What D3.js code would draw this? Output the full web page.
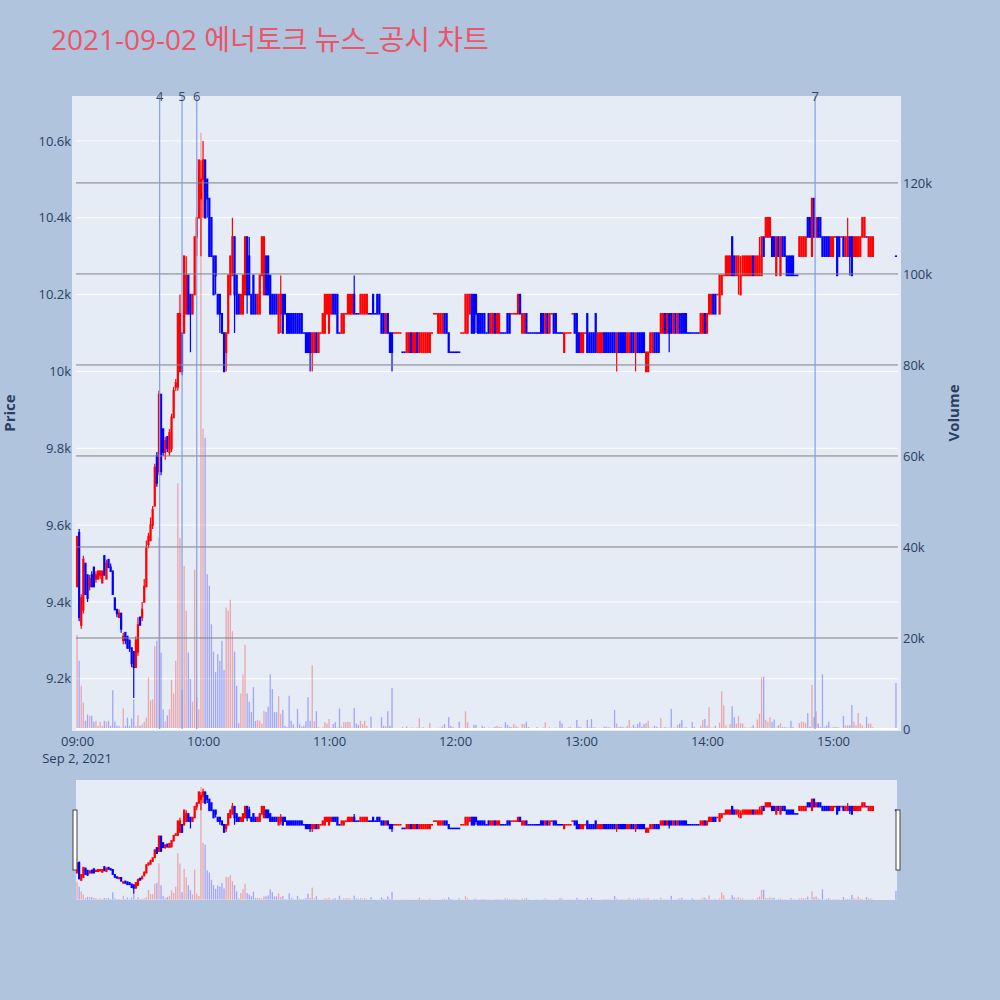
<!DOCTYPE html>
<html>
<head>
<meta charset="utf-8">
<script src="https://cdn.jsdelivr.net/npm/d3@7"></script>
<style>
  body { margin: 0; background: #b0c4de; }
  text { font-family: "Open Sans", "Noto Sans CJK KR", sans-serif; }
</style>
</head>
<body>
<div id="chart"></div>
<script>
// 1-minute candles, 09:00 - 15:19, plus the 15:30 closing print
const opens = [
  9440,9580,9340,9380,9500,9470,9440,9470,9490,9460,
  9460,9470,9450,9520,9460,9510,9490,9480,9410,9380,
  9360,9370,9300,9320,9310,9300,9280,9270,9230,9270,
  9360,9360,9400,9440,9550,9560,9600,9650,9780,9740,
  9940,9850,9790,9830,9790,9800,9880,9960,9960,10000,
  10100,10100,10150,10250,10200,10150,10200,10350,10400,10450,
  10500,10550,10500,10450,10400,10300,10300,10200,10200,10150,
  10100,10050,10100,10200,10250,10350,10250,10200,10150,10150,
  10200,10350,10300,10200,10250,10200,10150,10150,10250,10200,
  10300,10300,10250,10200,10200,10200,10100,10150,10200,10200,
  10150,10150,10150,10150,10150,10150,10150,10150,10100,10100,
  10100,10100,10050,10050,10100,10050,10100,10100,10100,10150,
  10100,10150,10200,10200,10200,10100,10100,10100,10150,10150,
  10150,10150,10200,10150,10150,10150,10150,10150,10150,10150,
  10150,10200,10150,10200,10200,10150,10150,10100,10150,10100,
  10100,10100,10100,10100,10100,10050,10050,10050,10050,10100,
  10050,10050,10100,10050,10050,10050,10050,10050,10050,10100,
  10150,10150,10100,10100,10100,10150,10150,10100,10050,10050,
  10050,10050,10050,10100,10100,10100,10100,10150,10200,10200,
  10200,10150,10150,10150,10150,10100,10150,10100,10100,10150,
  10100,10100,10100,10100,10100,10150,10150,10150,10150,10150,
  10150,10200,10100,10100,10150,10100,10100,10100,10100,10100,
  10100,10150,10150,10100,10150,10100,10150,10150,10150,10100,
  10100,10100,10050,10100,10100,10100,10150,10150,10150,10100,
  10050,10050,10100,10150,10100,10100,10100,10150,10050,10050,
  10050,10100,10100,10100,10100,10100,10100,10050,10100,10100,
  10100,10100,10050,10050,10100,10100,10050,10100,10100,10100,
  10100,10000,10000,10050,10050,10100,10100,10100,10100,10100,
  10150,10100,10150,10150,10100,10150,10100,10150,10150,10150,
  10150,10100,10100,10100,10100,10100,10100,10100,10100,10150,
  10100,10150,10150,10200,10200,10200,10150,10200,10250,10250,
  10250,10250,10350,10300,10250,10250,10200,10250,10250,10250,
  10250,10250,10300,10250,10250,10250,10250,10350,10350,10350,
  10350,10350,10350,10250,10350,10250,10350,10350,10300,10300,
  10300,10300,10250,10250,10300,10300,10300,10300,10400,10400,
  10300,10450,10350,10400,10400,10350,10350,10350,10350,10300,
  10300,10350,10350,10350,10350,10350,10300,10300,10350,10350,
  10300,10300,10300,10300,10350,10350,10350,10300,10300,10300,
  10300
];
const highs = [
  9570,9590,9420,9520,9500,9470,9470,9480,9490,9480,
  9480,9480,9480,9520,9510,9510,9500,9480,9410,9380,
  9380,9370,9320,9320,9310,9300,9280,9270,9310,9360,
  9360,9400,9460,9560,9580,9620,9650,9760,9790,9950,
  9940,9850,9830,9830,9850,9890,9960,9980,10150,10200,
  10100,10300,10300,10250,10200,10200,10350,10400,10550,10550,
  10600,10550,10500,10450,10400,10300,10300,10200,10200,10150,
  10100,10100,10250,10300,10400,10350,10250,10200,10200,10250,
  10350,10350,10350,10200,10250,10200,10200,10250,10350,10350,
  10300,10300,10250,10200,10200,10200,10200,10250,10200,10200,
  10150,10150,10150,10150,10150,10150,10150,10150,10100,10100,
  10100,10100,10100,10100,10100,10100,10100,10150,10200,10200,
  10200,10200,10200,10200,10200,10100,10150,10150,10150,10200,
  10200,10200,10250,10150,10150,10200,10200,10200,10200,10150,
  10150,10200,10150,10200,10200,10150,10150,10150,10150,10100,
  10100,10100,10100,10100,10100,10050,10050,10100,10100,10100,
  10100,10100,10100,10100,10100,10100,10100,10100,10100,10100,
  10150,10150,10150,10150,10150,10150,10150,10100,10050,10050,
  10050,10050,10050,10100,10100,10200,10200,10200,10200,10200,
  10200,10150,10150,10150,10150,10100,10150,10150,10150,10150,
  10150,10150,10100,10100,10100,10150,10150,10150,10150,10150,
  10200,10200,10150,10150,10150,10100,10100,10100,10100,10100,
  10100,10150,10150,10150,10150,10150,10150,10150,10150,10100,
  10100,10100,10100,10100,10100,10100,10150,10150,10150,10100,
  10100,10100,10100,10150,10100,10100,10100,10150,10100,10100,
  10100,10100,10100,10100,10100,10100,10100,10100,10100,10100,
  10100,10100,10100,10100,10100,10100,10100,10100,10100,10100,
  10100,10050,10050,10100,10100,10100,10100,10100,10150,10150,
  10150,10150,10150,10150,10150,10150,10150,10150,10150,10150,
  10150,10100,10100,10100,10100,10100,10100,10150,10150,10150,
  10150,10200,10200,10200,10200,10200,10250,10250,10250,10300,
  10300,10300,10350,10300,10300,10300,10300,10300,10300,10300,
  10300,10300,10300,10300,10300,10350,10350,10350,10400,10400,
  10400,10350,10350,10350,10350,10350,10350,10350,10300,10300,
  10300,10300,10250,10250,10350,10350,10350,10350,10400,10400,
  10450,10450,10400,10400,10400,10350,10350,10350,10350,10350,
  10350,10350,10350,10350,10350,10350,10350,10400,10350,10350,
  10350,10350,10350,10350,10400,10400,10350,10350,10350,10350,
  10300
];
const lows = [
  9440,9350,9330,9370,9420,9400,9430,9440,9440,9450,
  9460,9460,9450,9470,9460,9490,9480,9420,9380,9360,
  9360,9320,9290,9290,9280,9270,9230,9150,9230,9260,
  9340,9350,9400,9440,9540,9560,9590,9650,9700,9730,
  9730,9780,9770,9790,9780,9790,9880,9950,9950,10000,
  9990,10100,10150,10150,10050,10150,10200,10300,10400,10300,
  10400,10400,10400,10300,10300,10200,10200,10150,10100,10100,
  10000,10000,10100,10200,10250,10100,10150,10150,10150,10150,
  10200,10150,10200,10150,10150,10150,10150,10150,10250,10200,
  10200,10200,10150,10150,10150,10150,10100,10100,10100,10150,
  10100,10100,10100,10100,10100,10100,10100,10100,10100,10050,
  10050,10000,10000,10050,10050,10050,10100,10100,10100,10150,
  10100,10150,10150,10150,10100,10100,10100,10100,10150,10150,
  10150,10150,10150,10150,10150,10150,10150,10150,10150,10150,
  10150,10150,10150,10150,10150,10100,10100,10100,10100,10050,
  10000,10100,10100,10100,10100,10050,10050,10050,10050,10050,
  10050,10050,10050,10050,10050,10050,10050,10050,10050,10100,
  10150,10150,10100,10100,10100,10100,10100,10050,10050,10050,
  10050,10050,10050,10100,10100,10100,10100,10150,10100,10100,
  10100,10100,10100,10100,10100,10100,10100,10100,10100,10100,
  10100,10100,10100,10100,10100,10100,10100,10150,10150,10150,
  10150,10150,10100,10100,10100,10100,10100,10100,10100,10100,
  10100,10100,10100,10100,10100,10100,10150,10100,10100,10100,
  10100,10100,10050,10100,10100,10100,10150,10100,10050,10050,
  10050,10050,10100,10050,10050,10050,10050,10050,10050,10050,
  10050,10050,10050,10050,10050,10050,10050,10000,10050,10050,
  10050,10050,10050,10050,10050,10050,10000,10050,10050,10050,
  10050,10000,10000,10050,10050,10050,10050,10050,10100,10100,
  10100,10100,10050,10100,10100,10100,10100,10100,10100,10100,
  10100,10100,10100,10100,10100,10100,10100,10100,10100,10100,
  10100,10150,10150,10150,10150,10200,10150,10200,10250,10250,
  10250,10250,10250,10250,10250,10200,10200,10250,10250,10250,
  10250,10250,10250,10250,10250,10250,10250,10300,10350,10350,
  10350,10300,10300,10250,10300,10250,10300,10300,10250,10250,
  10250,10250,10250,10250,10300,10300,10300,10300,10350,10350,
  10300,10350,10350,10350,10350,10300,10300,10300,10300,10300,
  10300,10350,10250,10300,10350,10300,10300,10300,10250,10250,
  10300,10300,10300,10300,10350,10350,10350,10300,10300,10300,
  10300
];
const closes = [
  9570,9360,9410,9510,9420,9410,9460,9440,9440,9470,
  9480,9480,9480,9470,9500,9490,9480,9420,9380,9370,
  9370,9330,9310,9300,9280,9280,9240,9230,9300,9340,
  9340,9380,9440,9540,9570,9600,9640,9750,9710,9940,
  9740,9790,9820,9800,9840,9880,9950,9970,10150,10150,
  10000,10300,10250,10150,10150,10200,10350,10400,10550,10500,
  10550,10400,10450,10300,10300,10200,10250,10150,10150,10100,
  10000,10100,10250,10300,10350,10200,10150,10150,10200,10250,
  10350,10200,10200,10150,10150,10150,10200,10250,10350,10350,
  10200,10200,10150,10150,10150,10150,10200,10200,10100,10150,
  10100,10100,10100,10100,10100,10100,10100,10100,10100,10050,
  10050,10050,10100,10100,10050,10100,10100,10150,10200,10200,
  10200,10200,10150,10150,10100,10100,10150,10150,10150,10200,
  10200,10200,10150,10150,10150,10200,10200,10200,10200,10150,
  10150,10150,10150,10150,10150,10100,10100,10150,10100,10050,
  10050,10100,10100,10100,10100,10050,10050,10100,10100,10050,
  10100,10100,10050,10100,10100,10100,10100,10100,10100,10100,
  10150,10150,10150,10150,10150,10100,10100,10050,10050,10050,
  10050,10050,10050,10100,10100,10200,10200,10200,10100,10100,
  10150,10100,10100,10100,10100,10100,10100,10150,10150,10100,
  10150,10150,10100,10100,10100,10100,10100,10150,10150,10150,
  10200,10150,10150,10150,10100,10100,10100,10100,10100,10100,
  10100,10100,10100,10150,10100,10150,10150,10100,10100,10100,
  10100,10100,10100,10100,10100,10100,10150,10100,10050,10050,
  10100,10100,10100,10050,10050,10050,10050,10050,10100,10100,
  10100,10050,10050,10050,10050,10050,10050,10100,10050,10050,
  10050,10050,10100,10100,10050,10050,10100,10050,10050,10050,
  10050,10050,10050,10100,10100,10050,10050,10050,10150,10150,
  10100,10150,10100,10100,10150,10100,10150,10100,10100,10100,
  10100,10100,10100,10100,10100,10100,10100,10150,10150,10100,
  10150,10200,10200,10150,10150,10200,10250,10250,10250,10300,
  10300,10300,10250,10250,10300,10300,10250,10300,10300,10300,
  10300,10300,10250,10300,10300,10300,10350,10300,10400,10400,
  10400,10300,10300,10350,10300,10350,10300,10300,10250,10250,
  10250,10250,10250,10250,10350,10350,10350,10350,10350,10350,
  10450,10350,10400,10350,10350,10300,10300,10300,10300,10350,
  10350,10350,10250,10300,10350,10300,10350,10350,10300,10250,
  10350,10350,10350,10350,10400,10400,10350,10350,10350,10350,
  10300
];
const volumes = [
  20700,15000,9500,5800,1800,3200,2900,2900,1600,1800,
  700,1600,700,1800,1600,1800,700,8500,1600,700,
  700,300,4500,700,2500,700,2300,6500,700,3000,
  700,1000,1600,2500,11300,6300,6500,18200,19400,42000,
  16800,4300,1700,3000,4300,10800,7800,15000,54000,42000,
  8600,35800,26000,16800,11000,6000,35000,7000,4300,131000,
  66000,64000,34000,31500,23000,17000,12500,16400,15000,19400,
  13000,26700,26000,28400,21500,17000,9500,1300,7800,12000,
  18500,7800,6000,3700,9200,1800,2000,1800,1200,4000,
  3700,4900,12000,8800,3700,3700,7200,3300,4200,700,
  400,7300,1800,1000,300,4400,1000,500,700,1700,
  7000,1800,14000,1700,3900,400,200,400,1500,1200,
  2200,300,1100,1500,300,4500,500,1500,1500,1600,
  1500,300,4600,1200,900,1800,1100,1800,700,200,
  2700,200,200,200,200,2600,700,600,3900,700,
  9000,200,200,200,200,400,200,600,200,300,
  300,200,300,2400,300,400,200,300,1300,200,
  200,200,300,300,700,1100,200,2600,700,400,
  200,200,1600,200,200,3900,1500,300,200,900,
  900,200,200,700,400,200,300,200,300,500,
  700,500,400,200,1500,900,500,400,1100,700,
  400,200,1100,1100,1600,400,100,100,200,400,
  100,200,300,1500,200,400,100,200,300,200,
  1800,1200,300,200,400,500,200,300,2000,500,
  400,200,300,2000,400,2200,400,300,200,300,
  200,500,500,400,300,200,4200,1200,400,500,
  400,300,700,2000,300,900,500,1100,1500,500,
  1100,1300,1800,300,300,700,500,300,2400,300,
  400,300,300,4400,300,300,900,1200,2000,300,
  400,200,200,1500,400,200,200,700,2000,2200,
  700,4800,300,300,700,200,1400,8300,5200,800,
  300,1100,5000,2600,1200,2800,1300,1200,400,300,
  300,400,800,300,2100,3400,11300,11500,2000,1600,
  2600,1600,2100,300,800,1300,400,400,300,300,
  1800,400,200,200,1300,1600,1600,1300,3500,500,
  9700,2600,3900,1200,400,12000,400,800,1600,300,
  400,500,400,300,200,2900,800,800,800,5300,
  1600,800,3500,1200,800,300,2700,1200,1200,400,
  10100
];

// news / disclosure markers
const eventTimes = ["09:39:20", "09:50:00", "09:57:00", "14:51:30"];
const eventLabels = ["4", "5", "6", "7"];

const priceTicks = [9200, 9400, 9600, 9800, 10000, 10200, 10400, 10600];
const volumeTicks = [0, 20000, 40000, 60000, 80000, 100000, 120000];
const hourTicks = ["09:00", "10:00", "11:00", "12:00", "13:00", "14:00", "15:00"];

const UP = "#ff0000", DOWN = "#0000ff";
const ink = "#2a3f5f";

const width = 1000, height = 1000;
const day = (hms) => {
  const p = hms.split(":").map(Number);
  return new Date(2021, 8, 2, p[0], p[1], p[2] || 0);
};

const times = d3.timeMinute.range(day("09:00"), day("15:20")).concat([day("15:30")]);

const bars = [];
let lastUp = true;
times.forEach((t, i) => {
  const o = opens[i], c = closes[i];
  let up;
  if (c > o) up = true;
  else if (c < o) up = false;
  else if (i > 0 && c > closes[i - 1]) up = true;
  else if (i > 0 && c < closes[i - 1]) up = false;
  else up = lastUp;
  lastUp = up;
  bars.push({ t, o, h: highs[i], l: lows[i], c, v: volumes[i], up });
});

const svg = d3.select("#chart").append("svg")
  .attr("width", width)
  .attr("height", height);

svg.append("rect").attr("width", width).attr("height", height).attr("fill", "#b0c4de");

// scales
const x = d3.scaleTime()
  .domain([day("08:59:30"), day("15:30:30")])
  .range([76, 897]);

const y = d3.scaleLinear().domain([9064, 10717]).range([731, 96]);
const yVol = d3.scaleLinear().domain([-440, 139100]).range([731, 96]);

const ySlide = d3.scaleLinear().domain([9064, 10717]).range([900, 780]);
const yVolSlide = d3.scaleLinear().domain([-440, 139100]).range([900, 780]);

// title
svg.append("text")
  .attr("x", 51).attr("y", 50)
  .attr("font-size", 28)
  .attr("fill", "#ec5468")
  .text("2021-09-02 에너토크 뉴스_공시 차트");

// plot background
svg.append("rect")
  .attr("x", 72).attr("y", 96)
  .attr("width", 829).attr("height", 635)
  .attr("fill", "#e5ecf6");

// price grid
svg.append("g")
  .selectAll("line")
  .data(priceTicks)
  .join("line")
  .attr("x1", 76).attr("x2", 898)
  .attr("y1", d => y(d)).attr("y2", d => y(d))
  .attr("stroke", "#fff").attr("stroke-width", 1);

function drawCandles(g, ys) {
  const c = g.append("g");
  c.selectAll("line")
    .data(bars)
    .join("line")
    .attr("x1", d => x(d.t)).attr("x2", d => x(d.t))
    .attr("y1", d => ys(d.h)).attr("y2", d => ys(d.l))
    .attr("stroke", d => d.up ? UP : DOWN)
    .attr("stroke-width", 1.2);
  c.selectAll("rect")
    .data(bars)
    .join("rect")
    .attr("x", d => x(d.t) - 1.1)
    .attr("width", 2.2)
    .attr("y", d => Math.min(ys(d.o), ys(d.c)) - 0.8)
    .attr("height", d => Math.abs(ys(d.o) - ys(d.c)) + 1.6)
    .attr("fill", d => d.up ? UP : DOWN);
}

function drawVolume(g, ys) {
  g.append("g")
    .selectAll("rect")
    .data(bars)
    .join("rect")
    .attr("x", d => x(d.t) - 0.65)
    .attr("width", 1.3)
    .attr("y", d => ys(d.v))
    .attr("height", d => ys(0) - ys(d.v))
    .attr("fill", d => d.up ? UP : DOWN)
    .attr("fill-opacity", 0.3);
}

const main = svg.append("g");
drawCandles(main, y);

// volume grid (overlay axis)
svg.append("g")
  .selectAll("line")
  .data(volumeTicks.slice(1))
  .join("line")
  .attr("x1", 76).attr("x2", 898)
  .attr("y1", d => yVol(d)).attr("y2", d => yVol(d))
  .attr("stroke", "#808080").attr("stroke-width", 1);

svg.append("line")
  .attr("x1", 76).attr("x2", 898)
  .attr("y1", yVol(0)).attr("y2", yVol(0))
  .attr("stroke", "#fff").attr("stroke-width", 2);

drawVolume(main, yVol);

// event markers
const ev = svg.append("g");
ev.selectAll("line")
  .data(eventTimes)
  .join("line")
  .attr("x1", d => x(day(d))).attr("x2", d => x(day(d)))
  .attr("y1", 96).attr("y2", 729)
  .attr("stroke", "rgb(130,160,230)")
  .attr("stroke-width", 1.2);
ev.selectAll("text")
  .data(eventTimes)
  .join("text")
  .attr("x", d => x(day(d)))
  .attr("y", 101)
  .attr("text-anchor", "middle")
  .attr("font-size", 13)
  .attr("fill", "#3a4660")
  .text((d, i) => eventLabels[i]);

// axes
function styleAxis(g) {
  g.select(".domain").remove();
  g.selectAll("text").attr("fill", ink).attr("font-size", 13)
    .attr("font-family", "\"Open Sans\", sans-serif");
}

svg.append("g")
  .attr("transform", "translate(72,0)")
  .call(d3.axisLeft(y).tickValues(priceTicks).tickFormat(d3.format("~s")).tickSize(0).tickPadding(1))
  .call(styleAxis);

svg.append("g")
  .attr("transform", "translate(901,0)")
  .call(d3.axisRight(yVol).tickValues(volumeTicks).tickFormat(d3.format("~s")).tickSize(0).tickPadding(2))
  .call(styleAxis);

svg.append("g")
  .attr("transform", "translate(0,731)")
  .call(d3.axisBottom(x).tickValues(hourTicks.map(day)).tickFormat(d3.timeFormat("%H:%M")).tickSize(0).tickPadding(6))
  .call(styleAxis);

svg.append("text")
  .attr("x", x(day("09:00"))).attr("y", 763)
  .attr("text-anchor", "middle")
  .attr("font-size", 13).attr("fill", ink)
  .text("Sep 2, 2021");

// axis titles
svg.append("text")
  .attr("transform", "translate(15,413) rotate(-90)")
  .attr("text-anchor", "middle")
  .attr("font-size", 15).attr("font-weight", "bold").attr("fill", ink)
  .text("Price");

svg.append("text")
  .attr("transform", "translate(959,413) rotate(-90)")
  .attr("text-anchor", "middle")
  .attr("font-size", 15).attr("font-weight", "bold").attr("fill", ink)
  .text("Volume");

// range slider
svg.append("rect")
  .attr("x", 76).attr("y", 780)
  .attr("width", 821).attr("height", 120)
  .attr("fill", "#e5ecf6");

const slide = svg.append("g");
drawCandles(slide, ySlide);
drawVolume(slide, yVolSlide);

[73, 896].forEach(hx => {
  svg.append("rect")
    .attr("x", hx).attr("y", 810)
    .attr("width", 4).attr("height", 60)
    .attr("fill", "#fff")
    .attr("stroke", "#444").attr("stroke-width", 1);
});
</script>
</body>
</html>
